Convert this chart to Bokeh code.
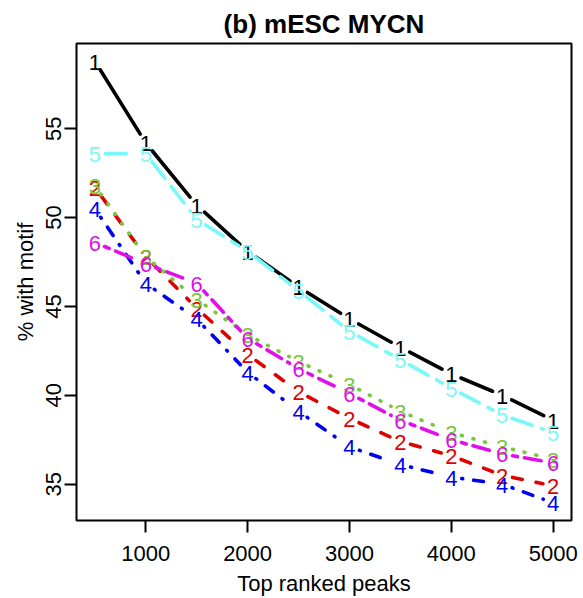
from bokeh.plotting import figure
from bokeh.models import Range1d, FixedTicker, ColumnDataSource
from bokeh.core.properties import value
from bokeh.embed import file_html
from bokeh.resources import INLINE
import math

# ---- data ----
peaks = [500, 1000, 1500, 2000, 2500, 3000, 3500, 4000, 4500, 5000]
s1 = [58.8, 54.2, 50.7, 48.1, 46.1, 44.3, 42.7, 41.2, 40.0, 38.6]
s2 = [51.7, 47.8, 44.9, 42.3, 40.2, 38.7, 37.4, 36.6, 35.5, 34.9]
s3 = [51.8, 47.8, 45.4, 43.4, 41.9, 40.6, 39.1, 37.9, 37.1, 36.4]
s4 = [50.5, 46.3, 44.3, 41.3, 39.1, 37.1, 36.1, 35.4, 35.0, 33.95]
s5 = [53.6, 53.6, 49.9, 48.1, 45.9, 43.6, 42.0, 40.4, 38.9, 37.9]
s6 = [48.6, 47.4, 46.3, 43.2, 41.5, 40.1, 38.6, 37.5, 36.7, 36.2]
series_labels = ["1", "2", "3", "4", "5", "6"]
x_ticks = [1000, 2000, 3000, 4000, 5000]
y_ticks = [35, 40, 45, 50, 55]

series = [s1, s2, s3, s4, s5, s6]
colors = ["#000000", "#E00000", "#78C83A", "#0000F0", "#78F8F8", "#E010E8"]
dashes = ["solid", "10 14", "1 11", "1 11 10 11", "21 10", "5 7 17 7"]

FONT = "Liberation Sans"

W, H = 583, 598
BL, BR, BT, BB = 76, 12, 43, 73
FW, FH = W - BL - BR, H - BT - BB

# R-style 4% axis extension
xmin, xmax = min(peaks), max(peaks)
allv = [v for s in series for v in s]
ymin, ymax = min(allv), max(allv)
xpad = (xmax - xmin) * 0.04
ypad = (ymax - ymin) * 0.04
x0r, x1r = xmin - xpad, xmax + xpad
y0r, y1r = ymin - ypad, ymax + ypad
sx = FW / (x1r - x0r)   # px per x unit
sy = FH / (y1r - y0r)   # px per y unit

p = figure(width=W, height=H, output_backend="svg", toolbar_location=None,
           x_range=Range1d(x0r, x1r), y_range=Range1d(y0r, y1r),
           min_border_left=BL, min_border_right=BR, min_border_top=BT,
           min_border_bottom=BB, background_fill_color="white",
           border_fill_color="white")

p.title.text = "(b) mESC MYCN"
p.title.align = "center"
p.title.text_font = FONT
p.title.text_font_size = "26px"
p.title.text_font_style = "bold"
p.title.text_color = "black"
p.title.standoff = 9

p.xgrid.visible = False
p.ygrid.visible = False
p.outline_line_color = "black"
p.outline_line_width = 2

for ax in (p.xaxis[0], p.yaxis[0]):
    ax.axis_line_color = None
    ax.major_tick_in = 0
    ax.major_tick_out = 12
    ax.major_tick_line_width = 2
    ax.major_tick_line_color = "black"
    ax.minor_tick_line_color = None
    ax.major_label_text_font = FONT
    ax.major_label_text_font_size = "22px"
    ax.major_label_text_color = "black"
    ax.axis_label_text_font = FONT
    ax.axis_label_text_font_size = "22px"
    ax.axis_label_text_font_style = "normal"
    ax.axis_label_text_color = "black"

p.xaxis.ticker = FixedTicker(ticks=x_ticks)
p.yaxis.ticker = FixedTicker(ticks=y_ticks)
p.xaxis.axis_label = "Top ranked peaks"
p.yaxis.axis_label = "% with motif"
p.xaxis.major_label_standoff = 13
p.xaxis.axis_label_standoff = 7
p.yaxis.major_label_orientation = "vertical"
p.yaxis.major_label_standoff = 3
p.yaxis.axis_label_standoff = 6

GAP = 10.5  # px gap around each point character (R type="b")

for lab, s, c, d in zip(series_labels, series, colors, dashes):
    xa, ya, xb, yb = [], [], [], []
    for i in range(len(peaks) - 1):
        dxp = (peaks[i + 1] - peaks[i]) * sx
        dyp = (s[i + 1] - s[i]) * sy
        L = math.hypot(dxp, dyp)
        if L <= 2 * GAP:
            continue
        f = GAP / L
        xa.append(peaks[i] + (peaks[i + 1] - peaks[i]) * f)
        ya.append(s[i] + (s[i + 1] - s[i]) * f)
        xb.append(peaks[i + 1] - (peaks[i + 1] - peaks[i]) * f)
        yb.append(s[i + 1] - (s[i + 1] - s[i]) * f)
    seg = ColumnDataSource(dict(x0=xa, y0=ya, x1=xb, y1=yb))
    p.segment("x0", "y0", "x1", "y1", source=seg, line_color=c,
              line_width=3.6, line_dash=d, line_cap="round")
    pts = ColumnDataSource(dict(x=peaks, y=s, t=[lab] * len(peaks)))
    p.text("x", "y", text="t", source=pts, text_color=c,
           text_font=value(FONT), text_font_size="22px",
           text_align="center", text_baseline="middle", y_offset=1)

open("out.html", "w").write(file_html(p, INLINE))
